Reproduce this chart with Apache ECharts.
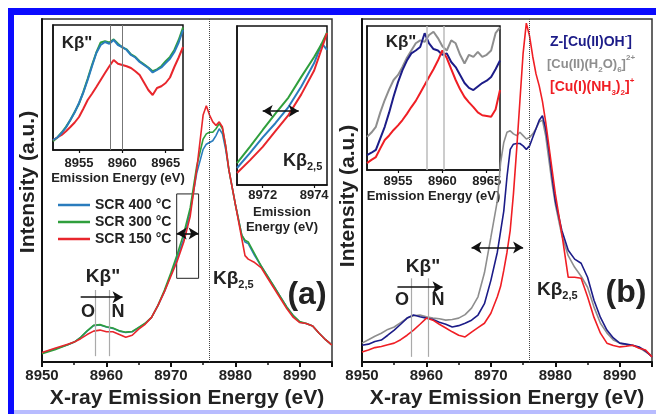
<!DOCTYPE html>
<html>
<head>
<meta charset="utf-8">
<script src="https://cdn.jsdelivr.net/npm/echarts/dist/echarts.min.js"></script>
<style>
html, body { margin: 0; padding: 0; background: #fff; }
#c { width: 656px; height: 414px; }
</style>
</head>
<body>
<div id="c"></div>
<script>
var FONT = '"Liberation Sans", Arial, sans-serif';

// ---- panel (a), main spectrum
var xA = [8950, 8952, 8954, 8955, 8956, 8957, 8958, 8959, 8960, 8961, 8962, 8963, 8964, 8965, 8966, 8967, 8968, 8969, 8970, 8971, 8972, 8973, 8974, 8975, 8975.5, 8976, 8976.5, 8977, 8977.5, 8978, 8978.5, 8979, 8980, 8981, 8981.5, 8982, 8983, 8984, 8985, 8986, 8987, 8988, 8989, 8990, 8991, 8992, 8993, 8994, 8995];
var a400 = [2.6, 3.8, 5.0, 5.8, 7.2, 9.0, 10.6, 10.8, 10.2, 9.8, 9.0, 8.6, 8.8, 10.0, 11.2, 13.0, 16.5, 20.5, 25.5, 30.5, 36, 44, 55, 62, 63.5, 64, 64.5, 66, 68, 66.5, 62, 56, 46, 37, 35, 34.5, 31, 28, 25, 22, 19, 16, 13.5, 11.6, 11.2, 10.5, 8.4, 6.5, 4.9];
var a300 = [2.4, 3.6, 5.0, 5.8, 7.2, 9.1, 10.7, 10.9, 10.3, 9.9, 9.1, 8.7, 8.9, 10.1, 11.3, 13.0, 16.5, 21, 26, 31.5, 37.5, 45, 57, 65, 66.5, 67, 67, 68, 69.5, 68, 63, 56, 46, 37, 35.5, 35, 31.5, 28, 25, 22, 19, 16, 13.5, 11.8, 11.2, 10.5, 8.4, 6.5, 4.9];
var a150 = [2.8, 4.0, 5.2, 5.8, 6.8, 8.0, 9.0, 9.3, 8.8, 8.8, 8.0, 7.2, 7.8, 9.6, 11.0, 13.0, 16.5, 20.5, 25, 29.5, 35, 42.5, 56, 72, 74.7, 72, 70, 69, 70, 68.5, 63, 56, 46, 36, 31, 30, 29, 27.5, 24.5, 21.5, 18.5, 15.5, 13, 11.5, 11.2, 10.5, 8.4, 6.5, 4.9];

// ---- panel (a), Kb'' inset
var xA1 = [8952, 8952.5, 8953, 8953.5, 8954, 8954.5, 8955, 8955.5, 8956, 8956.5, 8957, 8957.5, 8958, 8958.5, 8959, 8959.5, 8960, 8960.5, 8961, 8961.5, 8962, 8962.5, 8963, 8963.5, 8964, 8964.5, 8965, 8965.5, 8966, 8966.5, 8967];
var a1_400 = [8, 10, 13.6, 18, 24, 30, 37.6, 46, 56, 67, 77.6, 84, 86.4, 85, 88, 84, 82.4, 80, 76, 74, 70.4, 68, 65.6, 62, 64, 66, 69.6, 73, 78.4, 86, 96];
var a1_300 = [7, 10, 14, 18.5, 24, 30.5, 37, 46.5, 57, 68, 78, 86, 87, 86, 88.5, 85, 82, 80.5, 76.5, 74.5, 71, 68.5, 66, 63, 64.5, 67, 71, 74.5, 80, 88, 98];
var a1_150 = [8, 10, 12, 15, 18.4, 22, 26.4, 33, 40, 45, 50.4, 56, 61.6, 67, 72, 69, 68, 67, 65.6, 63, 60, 54, 48, 44, 49.6, 51, 53.6, 58, 66.4, 74, 82.4];

// ---- panel (a), Kb2,5 edge inset
var xA2 = [8971, 8971.5, 8972, 8972.5, 8973, 8973.5, 8974, 8974.3, 8974.5];
var a2_400 = [10.7, 20, 30, 39, 49, 62, 76.7, 89, 85];
var a2_300 = [13.8, 24, 34.6, 45, 55, 68, 80.5, 89, 96];
var a2_150 = [7.5, 15.5, 24, 34, 44, 57, 72, 86, 95.6];

// ---- panel (b), main spectrum
var xB = [8950, 8951, 8952, 8953, 8954, 8955, 8956, 8957, 8958, 8959, 8960, 8961, 8962, 8963, 8964, 8965, 8966, 8967, 8968, 8969, 8970, 8971, 8971.5, 8972, 8972.5, 8973, 8973.5, 8974, 8974.5, 8975, 8975.5, 8976, 8976.5, 8977, 8977.5, 8978, 8978.5, 8979, 8979.5, 8980, 8981, 8982, 8983, 8984, 8985, 8986, 8987, 8988, 8989, 8990, 8991, 8992, 8993, 8994, 8995];
var bOH  = [4.9, 5.2, 6.0, 6.4, 7.8, 9.3, 11.0, 12.8, 13.7, 13.2, 12.8, 12.4, 11.6, 11.0, 10.2, 10.6, 11.3, 12.2, 13.7, 17, 23.8, 32, 38, 44, 54, 62, 63.5, 63.7, 63.7, 63, 62, 63, 65.5, 68, 70.5, 71.8, 68, 61.6, 54, 47, 38.4, 32.6, 30, 28.8, 24.7, 18, 13, 9.3, 7, 5.5, 5.2, 4.9, 4.4, 3.2, 1.5];
var bH2O = [5.5, 6.5, 7.5, 8.4, 9.5, 10.2, 11.5, 12.8, 13.5, 13.7, 13.2, 12.8, 12.6, 12.2, 12.4, 12.8, 13.8, 15.7, 19, 26, 36.4, 47, 58, 64, 67, 67.4, 66.5, 66, 67, 66, 65, 65.5, 66.5, 68, 70, 70.5, 66, 59, 52, 46, 37, 31, 27.6, 25, 21.8, 16, 11.3, 8.5, 6.4, 5.5, 5.0, 4.8, 4.2, 3.0, 1.8];
var bNH3 = [2.9, 3.5, 4.2, 4.5, 5.0, 5.5, 6.5, 7.8, 9.3, 11.0, 12.8, 12.2, 11.0, 9.9, 8.8, 7.8, 7.3, 8.7, 10.0, 11.3, 14.2, 19, 22, 26.7, 32, 38.4, 49, 62, 76, 90, 98.8, 95, 89, 84, 80.5, 76, 70, 63, 56, 49, 37.5, 24.7, 24.7, 24.4, 19, 13, 8.4, 5.5, 4.8, 4.4, 4.6, 4.9, 4.0, 3.5, 1.5];

// ---- panel (b), Kb'' inset
var xB1 = [8951.5, 8952, 8952.5, 8953, 8953.5, 8954, 8954.5, 8955, 8955.5, 8956, 8956.5, 8957, 8957.5, 8958, 8958.5, 8959, 8959.5, 8960, 8960.5, 8961, 8961.5, 8962, 8962.5, 8963, 8963.5, 8964, 8964.5, 8965, 8965.5, 8966, 8966.5];
var b1OH  = [10.4, 12, 14, 22, 30, 40, 51, 61, 69.4, 76, 81, 83, 85.4, 95, 88, 84, 83, 80, 81, 75, 71.5, 66, 60.4, 57, 55.5, 58, 60.4, 62, 64.6, 70, 76];
var b1H2O = [23, 26, 30, 40, 48.6, 56, 62.5, 66, 71.5, 78, 83, 88, 90, 89, 93.7, 96, 91.6, 86, 83, 90, 88, 80, 74, 80, 78.5, 82, 78.5, 80, 83, 95, 99];
var b1NH3 = [4.8, 7, 9, 15, 20.8, 24, 27.8, 31, 34.7, 39, 43.7, 48, 53.5, 59, 64.6, 70, 76, 83, 77.7, 70, 62.5, 56, 50.7, 47, 43.7, 40, 38, 37.5, 37, 42, 55.5];

var ticksA1 = [8955, 8960, 8965];
var ticksA2 = [8972, 8974];
var ticksB1 = [8955, 8960, 8965];

var namesA = ['SCR 400 °C', 'SCR 300 °C', 'SCR 150 °C'];
var namesB = ['Z-[Cu(II)OH-]', '[Cu(II)(H2O)6]2+', '[Cu(I)(NH3)2]+'];

var cBlue = '#2a7cbd', cGreen = '#2f9f3c', cRed = '#e8262c';
var cNavy = '#1c1c88', cGray = '#8e8e8e', cRedB = '#f01e24';

function pairs(xs, ys) {
  return xs.map(function (x, i) { return [x, ys[i]]; });
}
function plain(v) { return String(v); }

function line(name, color, idx, xs, ys, w, z) {
  return {
    name: name, type: 'line', xAxisIndex: idx, yAxisIndex: idx,
    data: pairs(xs, ys), symbol: 'none', smooth: false, silent: true,
    lineStyle: { color: color, width: w || 1.6 }, itemStyle: { color: color },
    animation: false, z: z || 3
  };
}

function vline(x, y0, y1, color, type, w) {
  return [{ coord: [x, y0], symbol: 'none' }, { coord: [x, y1], symbol: 'none',
    lineStyle: { color: color, type: type, width: w } }];
}
function arrow(x0, x1, y, both) {
  return [{ coord: [x0, y], symbol: both ? 'arrow' : 'none' }, { coord: [x1, y], symbol: 'arrow',
    lineStyle: { color: '#111', type: 'solid', width: 1.6 } }];
}
function marks(list) {
  return { silent: true, animation: false, symbolSize: [9, 10], label: { show: false },
    lineStyle: { color: '#111', type: 'solid', width: 1.5 }, data: list };
}

var tickLbl = { fontFamily: FONT, fontWeight: 'bold', color: '#222', formatter: plain };

function mainX(idx) {
  return {
    type: 'value', gridIndex: idx, min: 8950, max: 8995, interval: 10,
    axisLine: { onZero: false, lineStyle: { color: '#111', width: 2 } },
    axisTick: { length: 5, lineStyle: { color: '#111', width: 2 } },
    minorTick: { show: true, splitNumber: 2, length: 3, lineStyle: { color: '#111', width: 1.5 } },
    splitLine: { show: false },
    axisLabel: Object.assign({ fontSize: 15, margin: 6 }, tickLbl),
    name: 'X-ray Emission Energy (eV)', nameLocation: 'middle', nameGap: 18,
    nameTextStyle: { fontFamily: FONT, fontWeight: 'bold', fontSize: 21, color: '#222' }
  };
}
function insetX(idx, lo, hi, ticks, name, margin, gap, lh) {
  return {
    type: 'value', gridIndex: idx, min: lo, max: hi,
    axisLine: { onZero: false, lineStyle: { color: '#111', width: 1.5 } },
    axisTick: { customValues: ticks, length: 3, lineStyle: { color: '#111', width: 1.2 } },
    splitLine: { show: false },
    axisLabel: Object.assign({ customValues: ticks, fontSize: 13, margin: margin }, tickLbl),
    name: name, nameLocation: 'middle', nameGap: gap,
    nameTextStyle: { fontFamily: FONT, fontWeight: 'bold', fontSize: 13, color: '#222', lineHeight: lh || 15 }
  };
}
function yAx(idx, main) {
  return {
    type: 'value', gridIndex: idx, min: 0, max: 100,
    axisLine: { show: true, onZero: false, lineStyle: { color: '#111', width: main ? 2 : 1.5 } },
    axisTick: { show: false }, axisLabel: { show: false }, splitLine: { show: false }
  };
}

function gridBox(left, top, width, height, main) {
  return { left: left, top: top, width: width, height: height, show: true,
    backgroundColor: '#fff', borderColor: main ? '#333' : '#111', borderWidth: 1.5 };
}

function txt(x, y, text, size, color, extra) {
  return Object.assign({
    type: 'text', x: x, y: y, z: 50, silent: true,
    style: { text: text, fontFamily: FONT, fontWeight: 'bold', fontSize: size, fill: color || '#222',
      align: 'center', verticalAlign: 'middle' }
  }, extra || {});
}
function kb25(x, y, size) {
  return {
    type: 'text', x: x, y: y, z: 50, silent: true,
    style: { text: '{a|Kβ}{s|2,5}', fontFamily: FONT, fontWeight: 'bold', fill: '#222',
      align: 'left', verticalAlign: 'middle',
      rich: {
        a: { fontFamily: FONT, fontWeight: 'bold', fontSize: size, lineHeight: size + 4 },
        s: { fontFamily: FONT, fontWeight: 'bold', fontSize: Math.round(size * 0.6), lineHeight: 6, verticalAlign: 'bottom' }
      } }
  };
}
function chem(x, y, text, color, size) {
  return {
    type: 'text', x: x, y: y, z: 50, silent: true,
    style: { text: text, fontFamily: FONT, fontWeight: 'bold', fill: color, align: 'left', verticalAlign: 'middle',
      rich: {
        n: { fontFamily: FONT, fontWeight: 'bold', fontSize: size, lineHeight: 20, fill: color },
        b: { fontFamily: FONT, fontWeight: 'bold', fontSize: 8, lineHeight: 8, verticalAlign: 'bottom', fill: color },
        p: { fontFamily: FONT, fontWeight: 'bold', fontSize: 8, lineHeight: 8, verticalAlign: 'top', fill: color }
      } }
  };
}

var KB = 'Kβ"';

var mainA = line(namesA[0], cBlue, 0, xA, a400);
mainA.markLine = marks([
  vline(8976, 0, 100, '#444', 'dotted', 1),
  vline(8958.3, 1.7, 21, '#aaa', 'solid', 1.2),
  vline(8960.4, 1.7, 21, '#aaa', 'solid', 1.2),
  arrow(8956, 8962.5, 18.9, false),
  arrow(8970.9, 8974.3, 37.5, true)
]);
mainA.markArea = { silent: true, animation: false,
  itemStyle: { color: 'rgba(0,0,0,0)', borderColor: '#222', borderWidth: 1 },
  data: [[{ coord: [8970.9, 24.4] }, { coord: [8974.3, 49] }]] };

// blue drawn above green in the Kb'' inset, as in the figure
var insA1 = line(namesA[0], cBlue, 1, xA1, a1_400, 2, 4);
insA1.markLine = marks([
  vline(8958.6, 0, 100, '#777', 'solid', 1),
  vline(8960, 0, 100, '#777', 'solid', 1)
]);
var insA2 = line(namesA[0], cBlue, 2, xA2, a2_400, 2);
insA2.markLine = marks([arrow(8972, 8973.4, 46.5, true)]);

var mainB = line(namesB[0], cNavy, 3, xB, bOH);
mainB.markLine = marks([
  vline(8976, 0, 100, '#444', 'dotted', 1),
  vline(8957.6, 1.5, 24.4, '#aaa', 'solid', 1.2),
  vline(8960.3, 1.5, 24.4, '#aaa', 'solid', 1.2),
  arrow(8955.5, 8962.5, 21.8, false),
  arrow(8967, 8975, 33.4, true)
]);
var insB = line(namesB[0], cNavy, 4, xB1, b1OH, 2);
insB.markLine = marks([
  vline(8958.2, 0, 100, '#bbb', 'solid', 1.5),
  vline(8960.2, 0, 100, '#bbb', 'solid', 1.5)
]);

var chart = echarts.init(document.getElementById('c'), null, { renderer: 'canvas' });
chart.setOption({
  backgroundColor: '#fff',
  animation: false,
  grid: [
    gridBox(42, 19, 290, 343, true),
    gridBox(53, 25, 130, 125, false),
    gridBox(237, 26, 90, 159, false),
    gridBox(362, 19, 290, 343, true),
    gridBox(367, 26, 133, 144, false)
  ],
  xAxis: [
    mainX(0),
    insetX(1, 8952, 8967, ticksA1, 'Emission Energy (eV)', 7, 19),
    insetX(2, 8971, 8974.5, ticksA2, 'Emission\nEnergy (eV)', 4, 20, 15),
    mainX(3),
    insetX(4, 8951.5, 8966.5, ticksB1, 'Emission Energy (eV)', 5, 17)
  ],
  yAxis: [yAx(0, true), yAx(1), yAx(2), yAx(3, true), yAx(4)],
  legend: {
    data: namesA.map(function (n) { return { name: n, icon: 'rect' }; }),
    orient: 'vertical', left: 53, top: 193, itemWidth: 32, itemHeight: 2.5, itemGap: 3,
    selectedMode: false, textStyle: { fontFamily: FONT, fontWeight: 'bold', fontSize: 14, color: '#222', lineHeight: 14 }
  },
  series: [
    mainA,
    line(namesA[1], cGreen, 0, xA, a300),
    line(namesA[2], cRed, 0, xA, a150),
    insA1,
    line(namesA[1], cGreen, 1, xA1, a1_300, 2),
    line(namesA[2], cRed, 1, xA1, a1_150, 2),
    insA2,
    line(namesA[1], cGreen, 2, xA2, a2_300, 2),
    line(namesA[2], cRed, 2, xA2, a2_150, 2),
    line(namesB[1], cGray, 3, xB, bH2O),
    mainB,
    line(namesB[2], cRedB, 3, xB, bNH3),
    line(namesB[1], cGray, 4, xB1, b1H2O, 2),
    insB,
    line(namesB[2], cRedB, 4, xB1, b1NH3, 2)
  ],
  graphic: [
    // blue frame of the figure
    { type: 'rect', z: 60, silent: true, shape: { x: 8, y: 8, width: 648, height: 7 }, style: { fill: '#0b0bff' } },
    { type: 'rect', z: 60, silent: true, shape: { x: 8, y: 8, width: 6, height: 406 }, style: { fill: '#0b0bff' } },
    { type: 'rect', z: 60, silent: true, shape: { x: 14, y: 410, width: 642, height: 4 }, style: { fill: '#b8bcff' } },
    // y titles
    txt(28, 182, 'Intensity (a.u.)', 21, '#222', { rotation: Math.PI / 2 }),
    txt(348, 196, 'Intensity (a.u.)', 21, '#222', { rotation: Math.PI / 2 }),
    // panel (a) annotations
    txt(77, 43, KB, 17),
    txt(103, 277, KB, 19),
    txt(88, 312, 'O', 18),
    txt(118, 312, 'N', 18),
    kb25(213, 279, 19),
    kb25(283, 161, 18),
    txt(307, 295, '(a)', 32),
    // panel (b) annotations
    txt(401, 42, KB, 17),
    txt(423, 267, KB, 19),
    txt(402, 300, 'O', 18),
    txt(438, 300, 'N', 18),
    kb25(537, 290, 19),
    txt(626, 293, '(b)', 32),
    chem(550, 42, '{n|Z-[Cu(II)OH}{p|-}{n|]}', cNavy, 14),
    chem(547, 64, '{n|[Cu(II)(H}{b|2}{n|O)}{b|6}{n|]}{p|2+}', cGray, 13),
    chem(550, 87, '{n|[Cu(I)(NH}{b|3}{n|)}{b|2}{n|]}{p|+}', cRedB, 14)
  ]
});
</script>
</body>
</html>
